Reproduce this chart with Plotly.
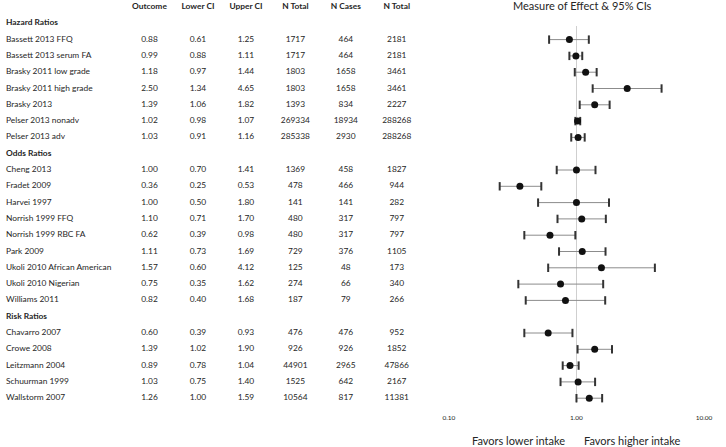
import plotly.graph_objects as go

# ---------------- data ----------------
groups = ["Hazard Ratios", "Odds Ratios", "Risk Ratios"]
group_sizes = [7, 9, 5]
studies = [
    "Bassett 2013 FFQ", "Bassett 2013 serum FA", "Brasky 2011 low grade", "Brasky 2011 high grade",
    "Brasky 2013", "Pelser 2013 nonadv", "Pelser 2013 adv",
    "Cheng 2013", "Fradet 2009", "Harvei 1997", "Norrish 1999 FFQ", "Norrish 1999 RBC FA",
    "Park 2009", "Ukoli 2010 African American", "Ukoli 2010 Nigerian", "Williams 2011",
    "Chavarro 2007", "Crowe 2008", "Leitzmann 2004", "Schuurman 1999", "Wallstorm 2007",
]
outcome = [0.88, 0.99, 1.18, 2.50, 1.39, 1.02, 1.03,
           1.00, 0.36, 1.00, 1.10, 0.62, 1.11, 1.57, 0.75, 0.82,
           0.60, 1.39, 0.89, 1.03, 1.26]
lower_ci = [0.61, 0.88, 0.97, 1.34, 1.06, 0.98, 0.91,
            0.70, 0.25, 0.50, 0.71, 0.39, 0.73, 0.60, 0.35, 0.40,
            0.39, 1.02, 0.78, 0.75, 1.00]
upper_ci = [1.25, 1.11, 1.44, 4.65, 1.82, 1.07, 1.16,
            1.41, 0.53, 1.80, 1.70, 0.98, 1.69, 4.12, 1.62, 1.68,
            0.93, 1.90, 1.04, 1.40, 1.59]
n_total = [1717, 1717, 1803, 1803, 1393, 269334, 285338,
           1369, 478, 141, 480, 480, 729, 125, 274, 187,
           476, 926, 44901, 1525, 10564]
n_cases = [464, 464, 1658, 1658, 834, 18934, 2930,
           458, 466, 141, 317, 317, 376, 48, 66, 79,
           476, 926, 2965, 642, 817]
n_total2 = [2181, 2181, 3461, 3461, 2227, 288268, 288268,
            1827, 944, 282, 797, 797, 1105, 173, 340, 266,
            952, 1852, 47866, 2167, 11381]
headers = ["Outcome", "Lower CI", "Upper CI", "N Total", "N Cases", "N Total"]
x_ticks = [0.1, 1, 10]
x_tick_labels = ["0.10", "1.00", "10.00"]

# ---------------- layout helpers ----------------
W, H = 726, 447
ROW0, ROWH = 7.0, 16.3       # pixel centre of header row, row height
PLOT_TOP, PLOT_BOT = 26.0, 403.0
FX0, FX1 = 452.3, 712.7
FONT = "Lato"
TXT = "#262626"
FS = 8.4
XOFF = 10.0                  # table axis starts this many units left of the page edge
NAME_X = -XOFF

# row indices
group_rows, study_rows = [], []
r = 1
for g, n in zip(groups, group_sizes):
    group_rows.append(r)
    r += 1
    for _ in range(n):
        study_rows.append(r)
        r += 1

col_px = [146.5, 196, 245, 295.5, 347, 399]
col_x = [p - XOFF for p in col_px]

fig = go.Figure()

# header row
fig.add_trace(go.Scatter(x=col_x, y=[0] * len(headers), text=[f"<b>{h}</b>" for h in headers],
                         mode="text", textposition="middle center", cliponaxis=False,
                         textfont=dict(family=FONT, size=FS, color=TXT),
                         xaxis="x", yaxis="y", hoverinfo="skip", showlegend=False))
# group labels
fig.add_trace(go.Scatter(x=[NAME_X] * len(groups), y=group_rows, text=[f"<b>{g}</b>" for g in groups],
                         mode="text", textposition="middle right", cliponaxis=False,
                         textfont=dict(family=FONT, size=FS, color=TXT),
                         xaxis="x", yaxis="y", hoverinfo="skip", showlegend=False))
# study names
fig.add_trace(go.Scatter(x=[NAME_X] * len(studies), y=study_rows, text=studies,
                         mode="text", textposition="middle right", cliponaxis=False,
                         textfont=dict(family=FONT, size=FS, color=TXT),
                         xaxis="x", yaxis="y", hoverinfo="skip", showlegend=False))
# numeric columns
cols = [
    [f"{v:.2f}" for v in outcome],
    [f"{v:.2f}" for v in lower_ci],
    [f"{v:.2f}" for v in upper_ci],
    [str(v) for v in n_total],
    [str(v) for v in n_cases],
    [str(v) for v in n_total2],
]
for cx, vals in zip(col_x, cols):
    fig.add_trace(go.Scatter(x=[cx] * len(vals), y=study_rows, text=vals,
                             mode="text", textposition="middle center", cliponaxis=False,
                             textfont=dict(family=FONT, size=FS, color=TXT),
                             xaxis="x", yaxis="y", hoverinfo="skip", showlegend=False))

# forest plot: CI lines
lx, ly = [], []
for lo, hi, yy in zip(lower_ci, upper_ci, study_rows):
    lx += [lo, hi, None]
    ly += [yy, yy, None]
fig.add_trace(go.Scatter(x=lx, y=ly, mode="lines", line=dict(color="#8c8c8c", width=1),
                         xaxis="x2", yaxis="y2", hoverinfo="skip", showlegend=False))
# caps
fig.add_trace(go.Scatter(x=lower_ci + upper_ci, y=study_rows + study_rows, mode="markers",
                         marker=dict(symbol="line-ns", size=6, line=dict(color="#333333", width=2)),
                         xaxis="x2", yaxis="y2", hoverinfo="skip", showlegend=False))
# point estimates
fig.add_trace(go.Scatter(x=outcome, y=study_rows, mode="markers",
                         marker=dict(symbol="circle", size=7, color="#111111"),
                         xaxis="x2", yaxis="y2", showlegend=False))

top_r = (PLOT_TOP - ROW0) / ROWH
bot_r = (PLOT_BOT - ROW0) / ROWH

fig.update_layout(
    width=W, height=H,
    margin=dict(l=0, r=0, t=0, b=0),
    paper_bgcolor="white", plot_bgcolor="white",
    font=dict(family=FONT, color=TXT),
    xaxis=dict(domain=[0, 440 / W], range=[-XOFF, 440 - XOFF], visible=False, fixedrange=True),
    yaxis=dict(domain=[0, 1], range=[(H - ROW0) / ROWH, -ROW0 / ROWH], visible=False),
    xaxis2=dict(domain=[FX0 / W, FX1 / W], type="log", range=[-1, 1], anchor="y2",
                tickvals=x_ticks, ticktext=x_tick_labels, tickfont=dict(size=6.5, color=TXT),
                showgrid=True, gridcolor="#cfcfcf", gridwidth=1, zeroline=False, showline=False,
                ticks="outside", ticklen=8, tickcolor="rgba(0,0,0,0)"),
    yaxis2=dict(domain=[1 - PLOT_BOT / H, 1 - PLOT_TOP / H], range=[bot_r, top_r], anchor="x2",
                visible=False),
    annotations=[
        dict(text="Measure of Effect & 95% CIs", x=589 / W, y=1 - 6 / H, xref="paper", yref="paper",
             xanchor="center", yanchor="middle", showarrow=False, font=dict(size=11, color=TXT)),
        dict(text="Favors lower intake", x=523 / W, y=1 - 440 / H, xref="paper", yref="paper",
             xanchor="center", yanchor="middle", showarrow=False, font=dict(size=11, color=TXT)),
        dict(text="Favors higher intake", x=640 / W, y=1 - 440 / H, xref="paper", yref="paper",
             xanchor="center", yanchor="middle", showarrow=False, font=dict(size=11, color=TXT)),
    ],
)

fig.write_html("out.html", config={"displayModeBar": False},
               post_script="document.body.style.margin='0';document.body.style.overflow='hidden';")
